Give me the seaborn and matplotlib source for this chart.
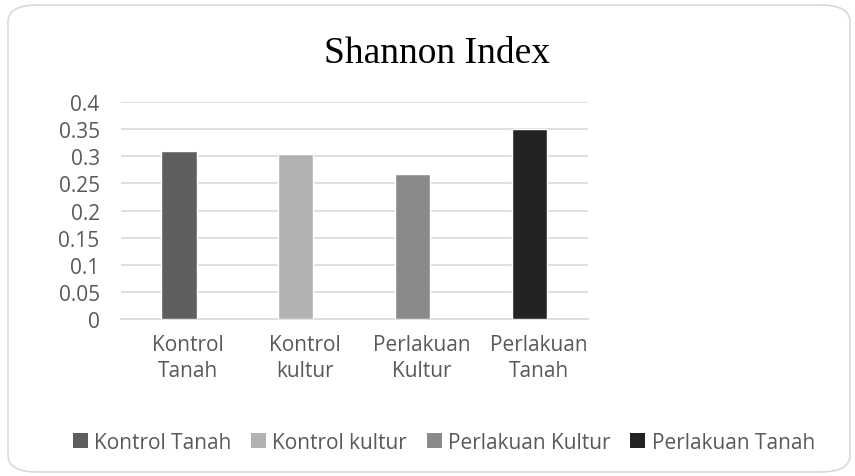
import matplotlib
matplotlib.use("Agg")
import matplotlib.pyplot as plt
import matplotlib.transforms as mtransforms
from matplotlib.patches import FancyBboxPatch, Patch
import seaborn as sns
import pandas as pd

# data
categories = ["Kontrol Tanah", "Kontrol kultur", "Perlakuan Kultur", "Perlakuan Tanah"]
tick_labels = ["Kontrol\nTanah", "Kontrol\nkultur", "Perlakuan\nKultur", "Perlakuan\nTanah"]
shannon = [0.309, 0.305, 0.268, 0.350]
colors = ["#5f5f5f", "#b2b2b2", "#8a8a8a", "#232323"]
yticks = [0, 0.05, 0.1, 0.15, 0.2, 0.25, 0.3, 0.35, 0.4]
ytick_labels = ["0", "0.05", "0.1", "0.15", "0.2", "0.25", "0.3", "0.35", "0.4"]

df = pd.DataFrame({"group": categories, "value": shannon})

sns.set_style("white")
plt.rcParams["font.family"] = ["Open Sans", "DejaVu Sans"]
txt = "#595959"

fig = plt.figure(figsize=(8.55, 4.77), dpi=100)
ax = fig.add_axes([0.141, 0.329, 0.547, 0.455])

# rounded chart border
fig.patches.append(FancyBboxPatch((8 / 855, 4 / 477), 842 / 855, 467 / 477,
                                  boxstyle="round,pad=0,rounding_size=0.035",
                                  transform=fig.transFigure, facecolor="none",
                                  edgecolor="#d9d9d9", linewidth=1.2, zorder=0))

sns.barplot(data=df, x="group", y="value", hue="group", palette=colors,
            width=0.3, legend=False, ax=ax, zorder=3)

ax.set_ylim(0, 0.4)
ax.set_yticks(yticks)
ax.set_yticklabels(ytick_labels)
ax.set_xticks(range(len(categories)))
ax.set_xticklabels(tick_labels, linespacing=1.3)
ax.yaxis.grid(True, color="#d9d9d9", linewidth=1.2, zorder=0)
ax.set_axisbelow(True)
for s in ["top", "right", "left"]:
    ax.spines[s].set_visible(False)
ax.spines["bottom"].set_color("#d9d9d9")
ax.spines["bottom"].set_linewidth(1.2)
ax.tick_params(axis="both", length=0, labelsize=15, colors=txt)
ax.tick_params(axis="x", pad=11)
ax.tick_params(axis="y", pad=15)
ax.set_xlabel("")
ax.set_ylabel("")

# excel nudges the category labels a little to the right
shift = mtransforms.ScaledTranslation(9 / 100, 0, fig.dpi_scale_trans)
for lab in ax.get_xticklabels():
    lab.set_transform(lab.get_transform() + shift)

fig.text(0.511, 0.888, "Shannon Index", ha="center", va="center",
         fontsize=27, family="Liberation Serif", color="black")

handles = [Patch(facecolor=c, edgecolor="none") for c in colors]
leg = fig.legend(handles, categories, loc="center", bbox_to_anchor=(0.519, 0.071),
                 ncol=4, frameon=False, fontsize=15, handlelength=0.72,
                 handleheight=0.72, handletextpad=0.3, columnspacing=0.95)
for t in leg.get_texts():
    t.set_color(txt)

fig.savefig("out.png", dpi=100)
